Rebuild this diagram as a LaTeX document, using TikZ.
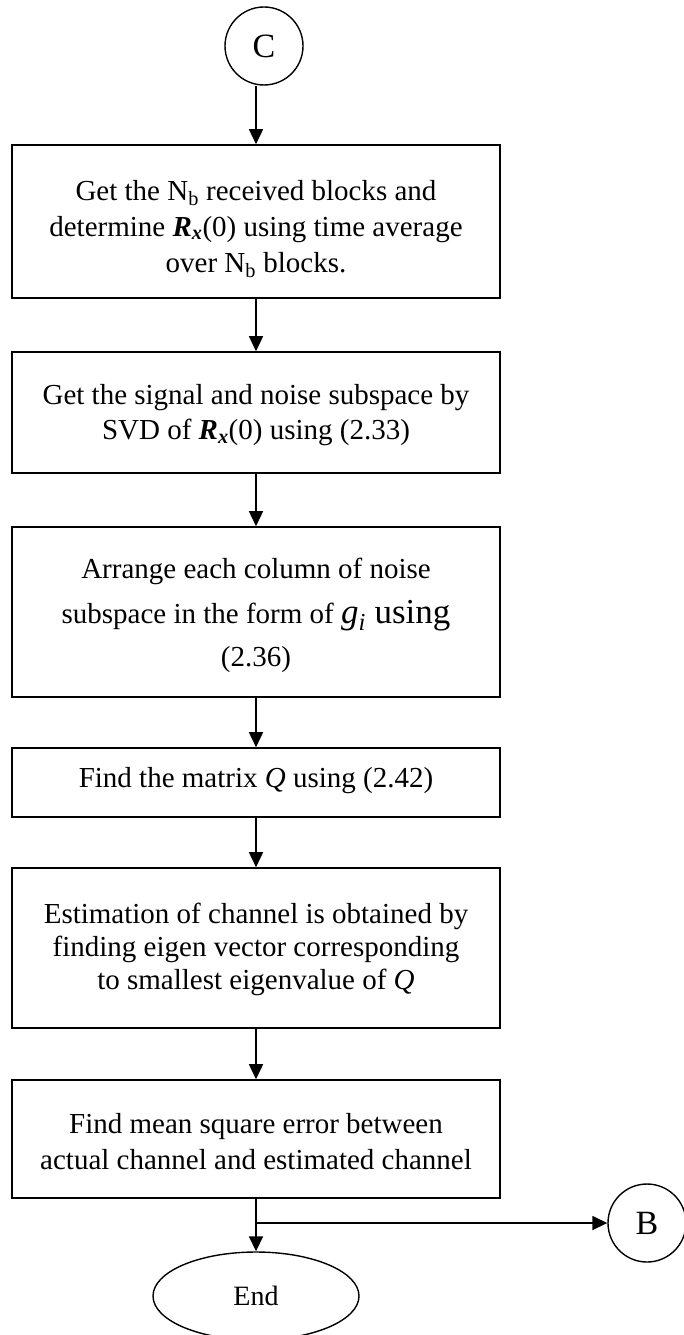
\documentclass[tikz,border=0pt]{standalone}
\usepackage{fontspec}
\setmainfont{Liberation Serif}
\usetikzlibrary{arrows.meta,shapes.geometric}
\newcommand{\Rx}{\textbf{\textit{R}}\textsubscript{\textbf{\textit{x}}}(0)}
\newcommand{\Nb}{N\textsubscript{b}}
\begin{document}
\begin{tikzpicture}[x=1pt,y=-1pt,
  txt/.style={font=\fontsize{29}{35}\selectfont,align=center,inner sep=0pt},
  stepbox/.style={draw,line width=1.6pt,minimum width=488pt,inner sep=0pt},
  conn/.style={draw,circle,line width=1.4pt,minimum size=78pt,inner sep=0pt,font=\fontsize{34}{40}\selectfont},
  term/.style={draw,ellipse,line width=1.4pt,minimum width=206pt,minimum height=88pt,inner sep=0pt,font=\fontsize{28}{34}\selectfont},
  arr/.style={line width=1.6pt,-{Triangle[length=15pt,width=14pt]}},
  link/.style={line width=1.6pt}]
\fill[white] (0,0) rectangle (683,1335);
\useasboundingbox (0,0) rectangle (683,1335);

% start connector
\node[conn] (c) at (264,46) {C};

% processing steps: frames
\node[stepbox,minimum height=153pt] (b1) at (256,221.5) {};
\node[stepbox,minimum height=121pt] (b2) at (256,412.5) {};
\node[stepbox,minimum height=170pt] (b3) at (256,612) {};
\node[stepbox,minimum height=69pt]  (b4) at (256,782.5) {};
\node[stepbox,minimum height=160pt] (b5) at (256,948) {};
\node[stepbox,minimum height=118pt] (b6) at (256,1139) {};

% processing steps: wording
\node[txt,font=\fontsize{29}{36}\selectfont] (t1) at (256,229)
  {Get the \Nb{} received blocks and\\ determine \Rx{} using time average\\ over \Nb{} blocks.};
\node[txt] (t2) at (256,415.5)
  {Get the signal and noise subspace by\\ SVD of \Rx{} using (2.33)};
\node[txt] (t3) at (256,615)
  {Arrange each column of noise\\[10pt] subspace in the form of {\fontsize{35}{42}\selectfont\textit{g}\textsubscript{\textit{i}} using}\\[8pt] (2.36)};
\node[txt] (t4) at (256,780.5)
  {Find the matrix \textit{Q} using (2.42)};
\node[txt,font=\fontsize{29}{33}\selectfont] (t5) at (256,949)
  {Estimation of channel is obtained by\\ finding eigen vector corresponding\\ to smallest eigenvalue of \textit{Q}};
\node[txt,font=\fontsize{29}{36}\selectfont] (t6) at (256,1142)
  {Find mean square error between\\ actual channel and estimated channel};

% exits
\node[term] (e) at (256,1296) {End};
\node[conn] (B) at (647,1223) {B};
\coordinate (j) at (256,1223);

% flow
\draw[arr] (b1.north |- c.south) -- (b1.north);
\draw[arr] (b1) -- (b2);
\draw[arr] (b2) -- (b3);
\draw[arr] (b3) -- (b4);
\draw[arr] (b4) -- (b5);
\draw[arr] (b5) -- (b6);
\draw[link] (b6.south) -- (j);
\draw[arr] (j) -- (e.north);
\draw[arr] (j) -- (B.west);
\end{tikzpicture}
\end{document}
